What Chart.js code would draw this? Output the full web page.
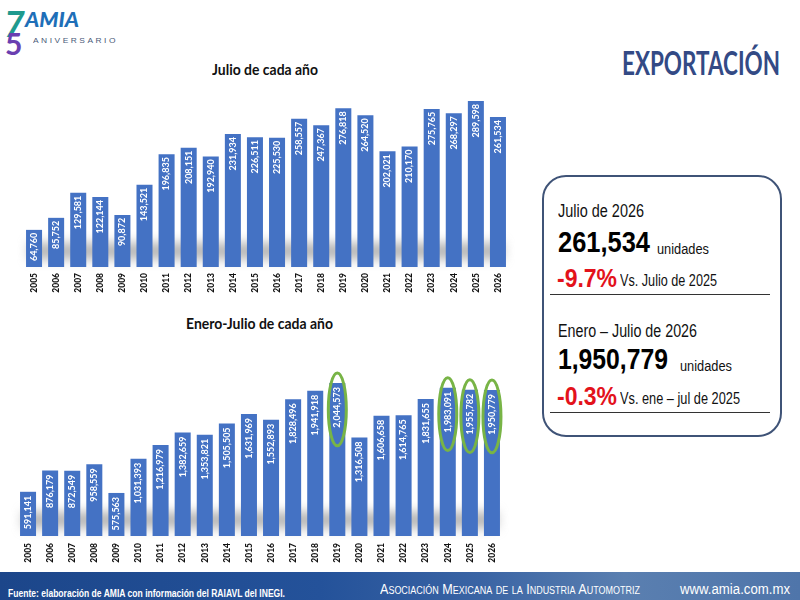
<!DOCTYPE html>
<html><head><meta charset="utf-8">
<script src="https://cdn.jsdelivr.net/npm/chart.js@4.4.1/dist/chart.umd.min.js"></script>
<style>
html,body{margin:0;padding:0;background:#fff;width:800px;height:600px;overflow:hidden;font-family:"Liberation Sans",Arial,sans-serif;}
.abs{position:absolute;white-space:nowrap;line-height:1;}
.fit{display:inline-block;transform-origin:0 0;}
.narrow{font-family:"Liberation Sans Narrow","Arial Narrow","Liberation Sans",sans-serif;}
.ctitle{font-family:Lato,"Open Sans",sans-serif;font-weight:bold;font-size:15px;color:#111;}
#box{position:absolute;left:542px;top:175px;width:236px;height:258px;border:2.4px solid #3f5377;border-radius:24px;}
.hr{position:absolute;left:550px;width:220px;height:0;border-top:1.6px solid #333;}
#footer{position:absolute;left:0;top:572px;width:800px;height:28px;background:linear-gradient(90deg,#1c468a 0%,#24529a 40%,#3a64a4 60%,#5a7fb0 78%,#4f75aa 100%);}
</style></head><body>

<!-- logo -->
<div class="abs" style="left:4px;top:1px;font:italic bold 36px Lato,sans-serif;color:#1f9a8e;">7</div>
<div class="abs" style="left:5px;top:25px;font:bold 30px Lato,sans-serif;color:#6a3fb0;">5</div>
<div class="abs" style="left:25px;top:6px;"><span class="fit" data-w="54" style="font:italic 900 21px Lato,sans-serif;color:#1e6fb8;">AMIA</span></div>
<div class="abs" style="left:33px;top:30px;"><span class="fit" data-w="85" style="font:8px 'Liberation Sans',sans-serif;color:#4a5a78;letter-spacing:2.4px;">ANIVERSARIO</span></div>

<div class="abs" style="left:622px;top:42px;"><span class="fit" data-w="158" style="font:bold 33px Lato,sans-serif;color:#334a85;">EXPORTACIÓN</span></div>

<div class="abs" style="left:212px;top:62px;"><span class="fit ctitle" data-w="106">Julio de cada año</span></div>
<div class="abs" style="left:186px;top:316px;"><span class="fit ctitle" data-w="147">Enero-Julio de cada año</span></div>

<div style="position:absolute;left:0;top:88px;"><canvas id="c1" width="530" height="212"></canvas></div>
<div style="position:absolute;left:0;top:350px;"><canvas id="c2" width="530" height="220"></canvas></div>

<div id="box"></div>
<div class="abs narrow" style="left:558px;top:202px;"><span class="fit" data-w="86" style="font-size:18px;color:#111;">Julio de 2026</span></div>
<div class="abs narrow" style="left:558px;top:227px;"><span class="fit" data-w="92" style="font-size:30px;font-weight:bold;color:#000;">261,534</span></div>
<div class="abs narrow" style="left:657px;top:241px;"><span class="fit" data-w="52" style="font-size:14px;color:#111;">unidades</span></div>
<div class="abs narrow" style="left:557px;top:265px;"><span class="fit" data-w="60" style="font-size:26px;font-weight:bold;color:#e3121b;">-9.7%</span></div>
<div class="abs narrow" style="left:620px;top:273px;"><span class="fit" data-w="97" style="font-size:16px;color:#111;">Vs. Julio de 2025</span></div>
<div class="hr" style="top:294px;"></div>
<div class="abs narrow" style="left:558px;top:322px;"><span class="fit" data-w="139" style="font-size:18px;color:#111;">Enero – Julio de 2026</span></div>
<div class="abs narrow" style="left:558px;top:344px;"><span class="fit" data-w="110" style="font-size:30px;font-weight:bold;color:#000;">1,950,779</span></div>
<div class="abs narrow" style="left:680px;top:358px;"><span class="fit" data-w="52" style="font-size:14px;color:#111;">unidades</span></div>
<div class="abs narrow" style="left:557px;top:383px;"><span class="fit" data-w="60" style="font-size:26px;font-weight:bold;color:#e3121b;">-0.3%</span></div>
<div class="abs narrow" style="left:620px;top:391px;"><span class="fit" data-w="120" style="font-size:16px;color:#111;">Vs. ene – jul de 2025</span></div>
<div class="hr" style="top:412px;"></div>

<div id="footer"></div>
<div class="abs narrow" style="left:8px;top:584px;"><span class="fit" data-w="277" style="font-size:11px;font-weight:bold;color:#fff;">Fuente: elaboración de AMIA con información del RAIAVL del INEGI.</span></div>
<div class="abs narrow" style="left:380px;top:581px;"><span class="fit" data-w="260" style="font-size:14px;font-variant:small-caps;color:#fff;">Asociación Mexicana de la Industria Automotriz</span></div>
<div class="abs narrow" style="left:680px;top:581px;"><span class="fit" data-w="110" style="font-size:14px;color:#fff;">www.amia.com.mx</span></div>

<script>
const years = ['2005','2006','2007','2008','2009','2010','2011','2012','2013','2014','2015','2016','2017','2018','2019','2020','2021','2022','2023','2024','2025','2026'];
const julio = [64760,85752,129581,122144,90872,143521,196835,208151,192940,231934,226511,225530,258557,247367,276818,264520,202021,210170,275765,268297,289598,261534];
const eneroJulio = [591141,876179,872549,958559,575563,1031393,1216979,1382659,1353821,1505505,1631969,1552893,1828496,1941918,2044573,1316508,1606658,1614765,1831655,1983091,1955782,1950779];
const highlightYears = ['2019','2024','2025','2026'];

document.querySelectorAll('.fit').forEach(el => {
  const w = parseFloat(el.dataset.w);
  el.style.transform = 'scaleX(' + (w / el.getBoundingClientRect().width) + ')';
});

const shadowPlugin = {
  id: 'barShadow',
  beforeDatasetsDraw(chart) {
    const {ctx, chartArea: a} = chart;
    ctx.save();
    ctx.filter = 'blur(6px)';
    ctx.fillStyle = 'rgba(130,130,130,0.6)';
    ctx.fillRect(a.left + 6, a.bottom - 24, a.right - a.left - 12, 16);
    ctx.restore();
  }
};

const labelPlugin = {
  id: 'barLabels',
  afterDatasetsDraw(chart, args, opts) {
    const ctx = chart.ctx;
    const meta = chart.getDatasetMeta(0);
    const vals = chart.data.datasets[0].data;
    const labels = chart.data.labels;
    ctx.save();
    ctx.font = 'bold ' + opts.size + 'px Lato, "Open Sans", sans-serif';
    meta.data.forEach((bar, i) => {
      const txt = vals[i].toLocaleString('en-US');
      const w = ctx.measureText(txt).width;
      ctx.save();
      ctx.translate(bar.x, bar.y + opts.pad);
      ctx.rotate(-Math.PI / 2);
      ctx.textAlign = 'right';
      ctx.textBaseline = 'middle';
      ctx.fillStyle = '#ffffff';
      ctx.fillText(txt, 0, 0);
      ctx.restore();
      if ((opts.highlights || []).includes(labels[i])) {
        ctx.save();
        ctx.beginPath();
        ctx.ellipse(bar.x, bar.y + opts.pad + w / 2 + 2, 9, w / 2 + 16, 0, 0, Math.PI * 2);
        ctx.strokeStyle = '#78b446';
        ctx.lineWidth = 3;
        ctx.stroke();
        ctx.restore();
      }
    });
    ctx.restore();
  }
};

function makeChart(id, values, yMax, pad, axisH, labelOpts) {
  return new Chart(document.getElementById(id), {
    type: 'bar',
    data: {
      labels: years,
      datasets: [{
        data: values,
        backgroundColor: '#4472c4',
        barPercentage: 0.725,
        categoryPercentage: 1.0
      }]
    },
    options: {
      responsive: false,
      animation: false,
      layout: {padding: pad},
      plugins: {
        legend: {display: false},
        tooltip: {enabled: false},
        barLabels: labelOpts
      },
      scales: {
        x: {
          grid: {display: false, drawTicks: false},
          border: {display: false},
          ticks: {
            color: '#111',
            font: {family: 'Lato, "Open Sans", sans-serif', weight: '900', size: 8.5},
            minRotation: 90, maxRotation: 90, autoSkip: false, padding: labelOpts.tickPad
          },
          afterFit(s) { s.height = axisH; }
        },
        y: {display: false, min: 0, max: yMax}
      }
    },
    plugins: [shadowPlugin, labelPlugin]
  });
}

makeChart('c1', julio, 300000, {top: 7, left: 23, right: 21, bottom: 0}, 33, {size: 9, pad: 3, tickPad: 6, highlights: []});
makeChart('c2', eneroJulio, 2300000, {top: 14, left: 17, right: 27, bottom: 0}, 34, {size: 9, pad: 4, tickPad: 7, highlights: highlightYears});
</script>
</body></html>
